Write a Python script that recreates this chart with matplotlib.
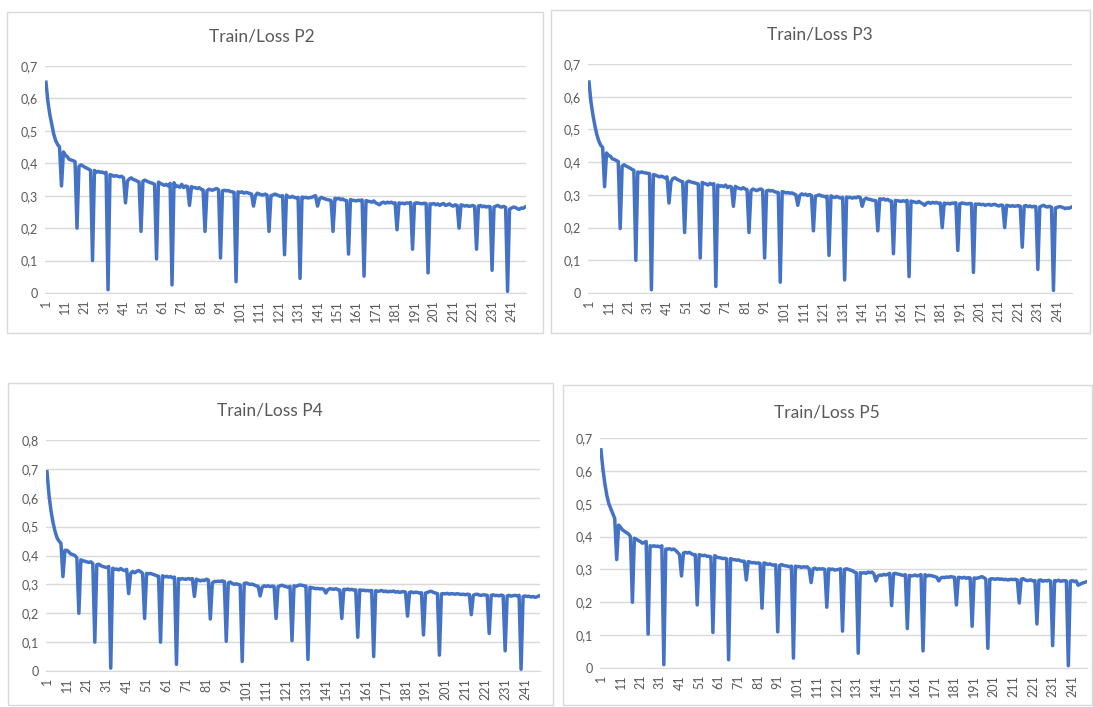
import numpy as np
import matplotlib.pyplot as plt
from matplotlib.patches import Rectangle
from matplotlib.ticker import FuncFormatter

plt.rcParams['font.family'] = ['Lato', 'DejaVu Sans']

# Train loss per step
loss_p2 = [0.650, 0.590, 0.550, 0.520, 0.490, 0.470, 0.458, 0.450, 0.330, 0.435,
           0.425, 0.420, 0.412, 0.410, 0.408, 0.405, 0.200, 0.390, 0.395, 0.392,
           0.388, 0.385, 0.382, 0.378, 0.100, 0.378, 0.372, 0.375, 0.372, 0.373,
           0.370, 0.372, 0.010, 0.365, 0.363, 0.360, 0.362, 0.360, 0.358, 0.360,
           0.355, 0.278, 0.345, 0.352, 0.355, 0.350, 0.348, 0.345, 0.342, 0.190,
           0.345, 0.348, 0.345, 0.342, 0.340, 0.338, 0.335, 0.105, 0.342, 0.338,
           0.335, 0.332, 0.335, 0.330, 0.338, 0.025, 0.340, 0.328, 0.330, 0.326,
           0.335, 0.325, 0.330, 0.328, 0.270, 0.328, 0.325, 0.325, 0.322, 0.325,
           0.320, 0.318, 0.190, 0.315, 0.320, 0.318, 0.317, 0.320, 0.322, 0.318,
           0.108, 0.315, 0.317, 0.315, 0.316, 0.313, 0.312, 0.310, 0.035, 0.312,
           0.310, 0.312, 0.308, 0.310, 0.309, 0.307, 0.305, 0.268, 0.300, 0.308,
           0.305, 0.303, 0.302, 0.305, 0.302, 0.190, 0.300, 0.302, 0.305, 0.303,
           0.300, 0.298, 0.300, 0.118, 0.302, 0.296, 0.295, 0.298, 0.295, 0.293,
           0.295, 0.045, 0.296, 0.294, 0.295, 0.293, 0.294, 0.295, 0.298, 0.300,
           0.268, 0.290, 0.295, 0.292, 0.290, 0.288, 0.287, 0.285, 0.190, 0.292,
           0.290, 0.292, 0.288, 0.290, 0.286, 0.285, 0.120, 0.288, 0.286, 0.285,
           0.284, 0.286, 0.285, 0.287, 0.052, 0.285, 0.283, 0.282, 0.280, 0.284,
           0.278, 0.275, 0.272, 0.278, 0.280, 0.277, 0.280, 0.278, 0.280, 0.277,
           0.278, 0.195, 0.278, 0.276, 0.277, 0.275, 0.278, 0.277, 0.279, 0.135,
           0.276, 0.278, 0.277, 0.276, 0.275, 0.277, 0.276, 0.062, 0.275, 0.274,
           0.276, 0.272, 0.275, 0.270, 0.274, 0.276, 0.270, 0.272, 0.275, 0.270,
           0.268, 0.272, 0.270, 0.200, 0.272, 0.270, 0.268, 0.270, 0.267, 0.268,
           0.270, 0.267, 0.135, 0.268, 0.270, 0.266, 0.268, 0.265, 0.267, 0.266,
           0.070, 0.265, 0.268, 0.270, 0.266, 0.265, 0.267, 0.264, 0.005, 0.258,
           0.262, 0.265, 0.264, 0.260, 0.258, 0.262, 0.261, 0.265]

loss_p3 = [0.645, 0.585, 0.545, 0.512, 0.485, 0.465, 0.452, 0.445, 0.325, 0.428,
           0.420, 0.418, 0.410, 0.408, 0.405, 0.402, 0.197, 0.388, 0.392, 0.388,
           0.385, 0.382, 0.378, 0.375, 0.100, 0.370, 0.368, 0.370, 0.368, 0.367,
           0.366, 0.365, 0.010, 0.362, 0.360, 0.358, 0.355, 0.357, 0.355, 0.352,
           0.355, 0.275, 0.340, 0.350, 0.352, 0.348, 0.345, 0.342, 0.340, 0.185,
           0.338, 0.342, 0.340, 0.338, 0.337, 0.335, 0.333, 0.107, 0.338, 0.335,
           0.333, 0.330, 0.335, 0.332, 0.334, 0.020, 0.330, 0.326, 0.328, 0.325,
           0.330, 0.322, 0.326, 0.324, 0.265, 0.326, 0.322, 0.320, 0.318, 0.322,
           0.318, 0.316, 0.185, 0.312, 0.318, 0.315, 0.313, 0.316, 0.318, 0.314,
           0.107, 0.312, 0.314, 0.312, 0.313, 0.310, 0.308, 0.307, 0.033, 0.310,
           0.308, 0.306, 0.307, 0.305, 0.306, 0.303, 0.300, 0.268, 0.298, 0.303,
           0.300, 0.302, 0.298, 0.301, 0.298, 0.190, 0.296, 0.298, 0.300, 0.297,
           0.296, 0.294, 0.296, 0.115, 0.297, 0.293, 0.292, 0.295, 0.292, 0.290,
           0.292, 0.040, 0.293, 0.292, 0.292, 0.290, 0.292, 0.291, 0.294, 0.292,
           0.265, 0.285, 0.290, 0.287, 0.286, 0.284, 0.283, 0.282, 0.190, 0.288,
           0.286, 0.288, 0.284, 0.286, 0.282, 0.281, 0.120, 0.283, 0.282, 0.281,
           0.280, 0.282, 0.280, 0.283, 0.050, 0.281, 0.279, 0.278, 0.276, 0.280,
           0.276, 0.273, 0.268, 0.275, 0.277, 0.274, 0.277, 0.275, 0.277, 0.274,
           0.275, 0.200, 0.275, 0.273, 0.274, 0.272, 0.275, 0.274, 0.276, 0.130,
           0.273, 0.275, 0.274, 0.273, 0.272, 0.274, 0.273, 0.063, 0.272, 0.271,
           0.272, 0.270, 0.271, 0.268, 0.270, 0.271, 0.268, 0.270, 0.271, 0.268,
           0.266, 0.269, 0.268, 0.200, 0.268, 0.267, 0.265, 0.267, 0.265, 0.266,
           0.267, 0.265, 0.140, 0.266, 0.267, 0.264, 0.266, 0.263, 0.265, 0.264,
           0.072, 0.263, 0.266, 0.268, 0.264, 0.263, 0.265, 0.262, 0.008, 0.260,
           0.262, 0.264, 0.263, 0.261, 0.258, 0.260, 0.259, 0.262]

loss_p4 = [0.690, 0.610, 0.555, 0.515, 0.485, 0.462, 0.450, 0.442, 0.327, 0.418,
           0.418, 0.412, 0.405, 0.403, 0.400, 0.392, 0.200, 0.385, 0.382, 0.380,
           0.378, 0.376, 0.378, 0.372, 0.100, 0.368, 0.370, 0.365, 0.362, 0.360,
           0.358, 0.362, 0.010, 0.356, 0.352, 0.353, 0.350, 0.355, 0.350, 0.348,
           0.352, 0.268, 0.338, 0.345, 0.340, 0.345, 0.348, 0.344, 0.338, 0.182,
           0.338, 0.337, 0.338, 0.335, 0.333, 0.330, 0.328, 0.100, 0.330, 0.326,
           0.328, 0.325, 0.327, 0.323, 0.325, 0.023, 0.320, 0.318, 0.320, 0.318,
           0.318, 0.320, 0.318, 0.320, 0.258, 0.318, 0.315, 0.312, 0.315, 0.313,
           0.318, 0.315, 0.180, 0.305, 0.310, 0.310, 0.311, 0.310, 0.312, 0.310,
           0.103, 0.305, 0.308, 0.303, 0.300, 0.302, 0.300, 0.298, 0.033, 0.303,
           0.305, 0.302, 0.300, 0.301, 0.298, 0.295, 0.293, 0.260, 0.290, 0.295,
           0.293, 0.295, 0.292, 0.294, 0.293, 0.182, 0.292, 0.295, 0.297, 0.294,
           0.292, 0.290, 0.293, 0.105, 0.295, 0.293, 0.296, 0.298, 0.297, 0.295,
           0.294, 0.040, 0.290, 0.288, 0.287, 0.285, 0.286, 0.284, 0.285, 0.283,
           0.270, 0.282, 0.285, 0.284, 0.283, 0.285, 0.282, 0.280, 0.182, 0.283,
           0.282, 0.284, 0.281, 0.283, 0.280, 0.281, 0.117, 0.281, 0.279, 0.280,
           0.278, 0.279, 0.277, 0.279, 0.050, 0.278, 0.276, 0.277, 0.279, 0.275,
           0.277, 0.274, 0.276, 0.275, 0.277, 0.273, 0.275, 0.272, 0.274, 0.275,
           0.273, 0.190, 0.272, 0.274, 0.271, 0.273, 0.272, 0.270, 0.271, 0.125,
           0.270, 0.272, 0.275, 0.276, 0.272, 0.270, 0.268, 0.055, 0.267, 0.268,
           0.267, 0.269, 0.266, 0.268, 0.267, 0.266, 0.268, 0.266, 0.265, 0.266,
           0.264, 0.266, 0.265, 0.195, 0.262, 0.265, 0.266, 0.263, 0.262, 0.264,
           0.263, 0.262, 0.130, 0.262, 0.264, 0.261, 0.262, 0.260, 0.263, 0.261,
           0.070, 0.260, 0.262, 0.259, 0.261, 0.262, 0.260, 0.262, 0.006, 0.258,
           0.260, 0.258, 0.259, 0.256, 0.258, 0.255, 0.257, 0.260]

loss_p5 = [0.664, 0.605, 0.560, 0.525, 0.500, 0.485, 0.470, 0.455, 0.330, 0.435,
           0.428, 0.420, 0.416, 0.412, 0.408, 0.400, 0.200, 0.395, 0.392, 0.388,
           0.385, 0.380, 0.382, 0.385, 0.103, 0.372, 0.370, 0.372, 0.370, 0.371,
           0.368, 0.372, 0.010, 0.362, 0.362, 0.363, 0.360, 0.362, 0.358, 0.352,
           0.345, 0.280, 0.350, 0.352, 0.350, 0.352, 0.348, 0.345, 0.345, 0.192,
           0.345, 0.343, 0.342, 0.343, 0.340, 0.340, 0.338, 0.108, 0.342, 0.337,
           0.336, 0.335, 0.333, 0.334, 0.332, 0.025, 0.333, 0.330, 0.330, 0.328,
           0.329, 0.326, 0.325, 0.325, 0.268, 0.324, 0.322, 0.320, 0.321, 0.319,
           0.320, 0.318, 0.182, 0.320, 0.318, 0.315, 0.317, 0.314, 0.313, 0.314,
           0.110, 0.312, 0.315, 0.312, 0.311, 0.310, 0.308, 0.310, 0.030, 0.310,
           0.308, 0.309, 0.306, 0.308, 0.307, 0.308, 0.302, 0.260, 0.302, 0.304,
           0.300, 0.302, 0.301, 0.302, 0.300, 0.185, 0.302, 0.300, 0.301, 0.298,
           0.299, 0.300, 0.302, 0.112, 0.300, 0.302, 0.300, 0.298, 0.296, 0.292,
           0.290, 0.045, 0.290, 0.289, 0.290, 0.288, 0.292, 0.290, 0.292, 0.286,
           0.265, 0.280, 0.283, 0.282, 0.285, 0.283, 0.285, 0.288, 0.190, 0.287,
           0.288, 0.286, 0.285, 0.283, 0.282, 0.284, 0.120, 0.282, 0.280, 0.281,
           0.283, 0.280, 0.282, 0.284, 0.052, 0.284, 0.280, 0.282, 0.281, 0.280,
           0.278, 0.276, 0.265, 0.274, 0.276, 0.275, 0.277, 0.276, 0.278, 0.277,
           0.276, 0.192, 0.276, 0.275, 0.274, 0.276, 0.273, 0.275, 0.274, 0.127,
           0.274, 0.273, 0.274, 0.276, 0.278, 0.275, 0.270, 0.060, 0.270, 0.272,
           0.271, 0.270, 0.272, 0.270, 0.271, 0.269, 0.270, 0.268, 0.269, 0.270,
           0.269, 0.270, 0.268, 0.198, 0.270, 0.272, 0.268, 0.266, 0.267, 0.268,
           0.265, 0.266, 0.134, 0.267, 0.268, 0.264, 0.266, 0.265, 0.267, 0.264,
           0.068, 0.266, 0.265, 0.267, 0.264, 0.265, 0.266, 0.265, 0.007, 0.264,
           0.266, 0.263, 0.265, 0.252, 0.255, 0.258, 0.260, 0.262]

titles = ['Train/Loss P2', 'Train/Loss P3', 'Train/Loss P4', 'Train/Loss P5']
series = [loss_p2, loss_p3, loss_p4, loss_p5]
y_max = [0.7, 0.7, 0.8, 0.7]

W, H = 1093, 707
line_color = '#4472C4'
grid_color = '#D9D9D9'
text_color = '#595959'

# pixel layout of each Excel chart: box, plot area, title centre
boxes = [(7, 12, 543, 333), (551, 10, 1090, 333),
         (8, 383, 553, 705), (563, 385, 1092, 705)]
plots = [(45, 66, 526, 293), (588, 64, 1072, 293),
         (46, 440, 540, 671), (600, 438, 1087, 668)]
title_pos = [(262, 37), (820, 35), (270, 410), (827, 412)]


def comma(v, pos):
    if abs(v) < 1e-9:
        return '0'
    return ('%.1f' % v).replace('.', ',')


fig = plt.figure(figsize=(W / 100, H / 100), dpi=100)

for i in range(4):
    l, t, r, b = boxes[i]
    fig.patches.append(Rectangle((l / W, 1 - b / H), (r - l) / W, (b - t) / H,
                                 transform=fig.transFigure, fill=False,
                                 edgecolor=grid_color, linewidth=1))
    tx, ty = title_pos[i]
    fig.text(tx / W, 1 - ty / H, titles[i], ha='center', va='center',
             fontsize=12.5, color=text_color)

    l, t, r, b = plots[i]
    ax = fig.add_axes([l / W, 1 - b / H, (r - l) / W, (b - t) / H])
    y = np.array(series[i])
    x = np.arange(1, len(y) + 1)
    ax.plot(x, y, color=line_color, linewidth=2.5, solid_joinstyle='round')

    ax.set_xlim(0.5, len(y) + 0.5)
    ax.set_ylim(0, y_max[i])
    ax.set_yticks(np.arange(0, y_max[i] + 0.01, 0.1))
    ax.yaxis.set_major_formatter(FuncFormatter(comma))
    xt = np.arange(1, len(y) + 1, 10)
    ax.set_xticks(xt)
    ax.set_xticklabels([str(v) for v in xt], rotation=90)

    ax.grid(axis='y', color=grid_color, linewidth=1)
    ax.set_axisbelow(True)
    for s in ['top', 'right', 'left']:
        ax.spines[s].set_visible(False)
    ax.spines['bottom'].set_color(grid_color)
    ax.tick_params(length=0, labelsize=9, colors=text_color, pad=5)

fig.savefig('out.png', dpi=100)
